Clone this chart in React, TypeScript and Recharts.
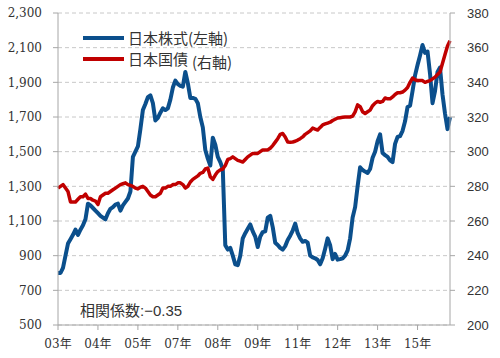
import React from 'react';
import { LineChart, Line, XAxis, YAxis, CartesianGrid } from 'recharts';

// Monthly categories: Jan 2003 .. Feb 2016
const months: string[] = [];
for (let i = 0; i < 158; i++) {
  const y = 2003 + Math.floor(i / 12);
  const m = (i % 12) + 1;
  months.push(`${y}/${m < 10 ? '0' + m : m}`);
}

// 日本株式 (left axis)
const stock: number[] = [
  800, 800, 830, 900, 970, 995, 1020, 1050, 1020, 1050, 1075, 1110,
  1200, 1190, 1175, 1160, 1145, 1130, 1120, 1110, 1145, 1170, 1180, 1195,
  1200, 1160, 1190, 1210, 1230, 1270, 1470, 1500, 1530, 1630, 1740, 1775,
  1815, 1825, 1780, 1680, 1695, 1725, 1750, 1740, 1750, 1800, 1870, 1910,
  1890, 1880, 1875, 1960, 1895, 1810, 1810, 1805, 1780, 1700, 1640, 1510,
  1460, 1420, 1580, 1540, 1470, 1440, 1400, 960, 935, 945, 900, 850,
  845, 900, 1000, 1030, 1055, 1080, 1040, 1010, 950, 1010, 1036, 1040,
  1120, 1130, 1065, 975, 962, 945, 935, 955, 990, 1015, 1045, 1085,
  1030, 1000, 980, 985, 975, 900, 890, 885, 875, 850, 885, 940,
  1000, 960, 880, 910, 877, 880, 885, 900, 930, 1000, 1120, 1180,
  1300, 1410, 1394, 1385, 1377, 1400, 1465, 1500, 1560, 1600, 1492, 1480,
  1470, 1450, 1440, 1545, 1585, 1590, 1620, 1675, 1758, 1765, 1850, 1940,
  2000, 2055, 2115, 2070, 2078, 1950, 1780, 1850, 1960, 1985, 1830, 1720,
  1630, 1700,
];

// 日本国債 (right axis)
const bond: number[] = [
  279, 280, 281, 279, 277, 271, 271, 271, 272.5, 274, 274, 275.5,
  273, 273, 272, 271.5, 269.5, 274, 275, 276, 276, 277, 278, 279,
  280, 281, 281.5, 282, 281, 280.5, 280, 279, 278.5, 279.5, 280, 279,
  277, 275, 274, 274, 275, 276, 279, 279, 280, 280, 281, 281,
  282, 282, 281, 279, 280, 282.5, 284, 285, 286, 287.5, 288, 290,
  290.5, 285.5, 284, 286.5, 288.5, 289.5, 290, 292, 295.5, 296, 297, 296,
  295, 294.5, 294, 295.5, 297, 298, 299, 299, 299, 300, 301, 301,
  301, 302, 303.5, 305.5, 307.5, 310, 310.5, 308.5, 305.6, 305.5, 305.6, 306,
  306.7, 307.5, 308.5, 310, 311, 312, 313.6, 313, 312.5, 314, 315.4, 316,
  316.5, 317, 318, 318.7, 319.4, 319.6, 319.8, 320, 320, 320, 320.5, 323,
  327, 326, 323, 322, 323, 324, 326.5, 328, 329, 328.5, 329, 331,
  330.5, 330.5, 331.6, 333, 334, 334, 334.4, 335.5, 337, 340, 342.5, 341.5,
  341, 341, 341, 340, 340.5, 341, 342, 343, 344.5, 346, 351, 356,
  361, 364,
];

const leftTicks = [500, 700, 900, 1100, 1300, 1500, 1700, 1900, 2100, 2300];
const rightTicks = [200, 220, 240, 260, 280, 300, 320, 340, 360, 380];

const seriesNames = ['日本株式', '日本国債'];
const legendSuffix = ['(左軸)', '(右軸)'];
const note = '相関係数:−0.35';

const data = months.map((m, i) => ({ month: m, stock: stock[i], bond: bond[i] }));

const BLUE = '#0B4F8C';
const RED = '#C00000';
const AXIS = '#a6a6a6';
const TEXT = '#333333';

export default function App() {
  return (
    <div style={{ position: 'absolute', left: 0, top: 0, width: 500, height: 358, background: '#fff' }}>
      <LineChart width={500} height={358} data={data} margin={{ top: 13, right: 0, bottom: 0, left: 0 }}>
        <CartesianGrid yAxisId="left" vertical={false} stroke="#c8c8c8" strokeDasharray="4 3" />
        <XAxis
          dataKey="month"
          interval={15}
          height={33}
          tickSize={5}
          tickMargin={9}
          stroke={AXIS}
          tickFormatter={(v: string) => `${v.slice(2, 4)}年`}
          tick={{ fill: TEXT, fontSize: 12, fontFamily: "'DejaVu Serif', 'Noto Sans CJK JP', serif" }}
        />
        <YAxis
          yAxisId="left"
          domain={[500, 2300]}
          ticks={leftTicks}
          width={58}
          tickSize={5}
          tickMargin={11}
          stroke={AXIS}
          interval={0}
          tickFormatter={(v: number) => v.toLocaleString('en-US')}
          tick={{ fill: TEXT, fontSize: 12, fontFamily: "'DejaVu Serif', serif" }}
        />
        <YAxis
          yAxisId="right"
          orientation="right"
          domain={[200, 380]}
          ticks={rightTicks}
          width={50}
          tickSize={5}
          tickMargin={12}
          stroke={AXIS}
          interval={0}
          tick={{ fill: TEXT, fontSize: 13, fontFamily: "'Liberation Sans', sans-serif" }}
        />
        <Line yAxisId="left" dataKey="stock" stroke={BLUE} strokeWidth={4} dot={false} isAnimationActive={false} strokeLinejoin="round" />
        <Line yAxisId="right" dataKey="bond" stroke={RED} strokeWidth={3.5} dot={false} isAnimationActive={false} strokeLinejoin="round" />
      </LineChart>

      {/* legend */}
      <div style={{ position: 'absolute', left: 83, top: 28, fontFamily: "'Noto Sans CJK JP', sans-serif", fontSize: 15, color: TEXT, lineHeight: '20px' }}>
        <div style={{ display: 'flex', alignItems: 'center', height: 20 }}>
          <svg width={42} height={20}><line x1={0} y1={10} x2={41} y2={10} stroke={BLUE} strokeWidth={4} /></svg>
          <span style={{ marginLeft: 3 }}>{seriesNames[0]}{legendSuffix[0]}</span>
        </div>
        <div style={{ display: 'flex', alignItems: 'center', height: 20, marginTop: 1 }}>
          <svg width={42} height={20}><line x1={0} y1={10} x2={41} y2={10} stroke={RED} strokeWidth={4} /></svg>
          <span style={{ marginLeft: 3 }}>{seriesNames[1]}</span>
          <span style={{ position: 'relative', top: 3, marginLeft: 4 }}>{legendSuffix[1]}</span>
        </div>
      </div>

      {/* correlation note */}
      <div style={{ position: 'absolute', left: 80, top: 301, fontFamily: "'Liberation Sans', 'Noto Sans CJK JP', sans-serif", fontSize: 15, color: TEXT, lineHeight: '20px', whiteSpace: 'nowrap' }}>
        {note}
      </div>
    </div>
  );
}
